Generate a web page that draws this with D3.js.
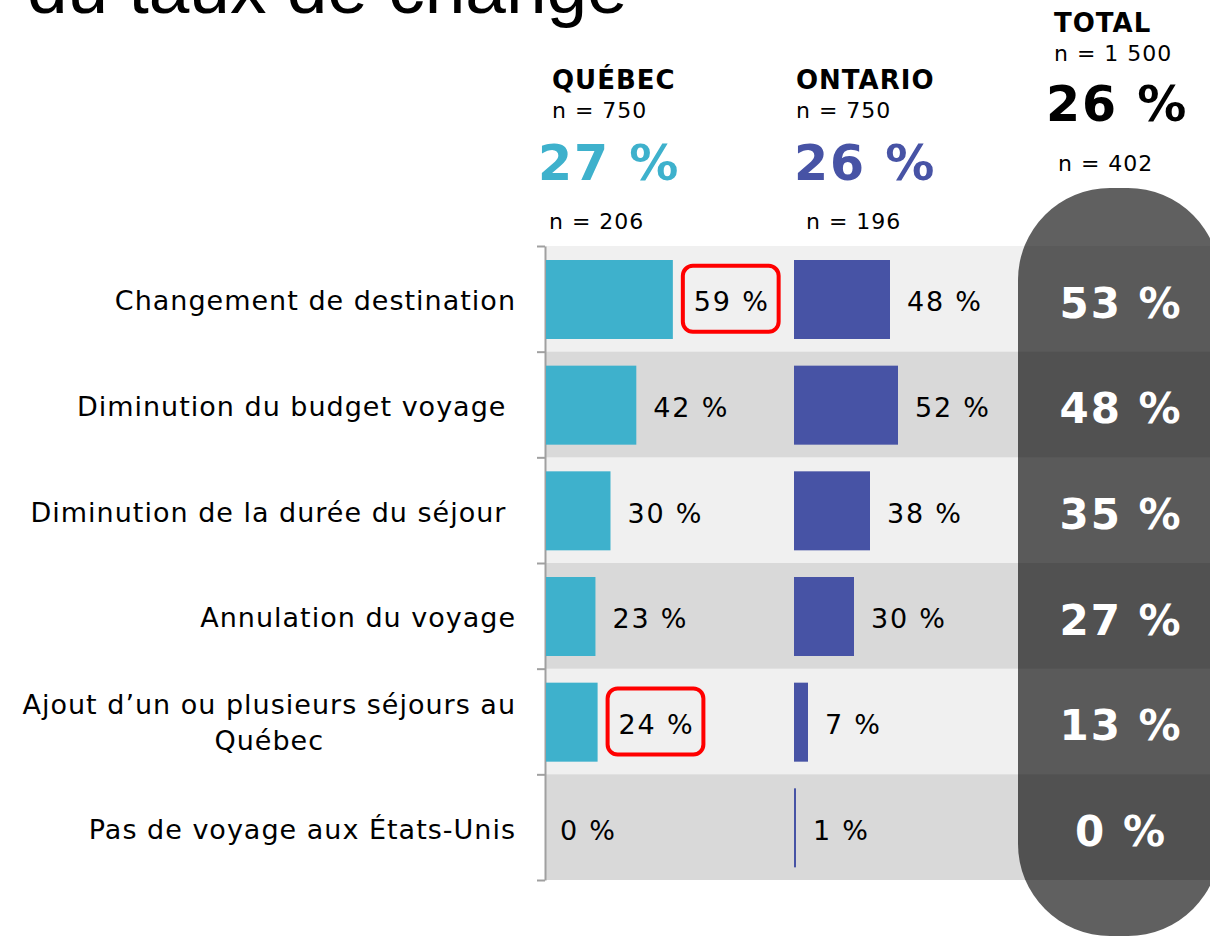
<!DOCTYPE html>
<html>
<head>
<meta charset="utf-8">
<script src="https://cdnjs.cloudflare.com/ajax/libs/d3/7.8.5/d3.min.js"></script>
<style>
  body { margin: 0; background: #fff; }
  svg text { font-family: "DejaVu Sans", Verdana, sans-serif; white-space: pre; }
</style>
</head>
<body>
<div id="chart"></div>
<script>
// data
var categories = [
  "Changement de destination",
  "Diminution du budget voyage ",
  "Diminution de la durée du séjour ",
  "Annulation du voyage",
  "Ajout d’un ou plusieurs séjours au|Québec",
  "Pas de voyage aux États-Unis"
];
var quebec  = [59, 42, 30, 23, 24, 0];
var ontario = [48, 52, 38, 30, 7, 1];
var total   = [53, 48, 35, 27, 13, 0];
var highlightQc = [0, 4];   // rows with a red box around the Québec value

var headers = [
  { name: "QUÉBEC",  n: "n = 750",   pct: "27 %", sub: "n = 206" },
  { name: "ONTARIO", n: "n = 750",   pct: "26 %", sub: "n = 196" },
  { name: "TOTAL",   n: "n = 1 500", pct: "26 %", sub: "n = 402" }
];

var w = 1210, h = 936;
var teal = "#3eb1cc", blue = "#4753a5";

var svg = d3.select("#chart").append("svg")
    .attr("width", w)
    .attr("height", h);

// title (cut off at the top, as in the slide)
svg.append("text")
    .attr("x", 27).attr("y", 13)
    .style("font-family", "'Liberation Sans', Arial, sans-serif")
    .style("font-size", "73px")
    .text("du taux de change");

// scales
var y = d3.scaleBand().domain(d3.range(categories.length)).range([246, 880]);
var yEdge = d3.scaleLinear().domain([0, categories.length]).range([246, 880]);
var xQc = d3.scaleLinear().domain([0, 100]).range([546, 761]);
var xOn = d3.scaleLinear().domain([0, 100]).range([794, 994]);

// total column shape
svg.append("rect")
    .attr("x", 1018).attr("y", 188)
    .attr("width", 202).attr("height", 748)
    .attr("rx", 92).attr("ry", 92)
    .attr("fill", "#606060");

// row bands
svg.selectAll(".band")
    .data(categories)
    .enter().append("rect")
    .attr("class", "band")
    .attr("x", 545).attr("width", w - 545)
    .attr("y", function(d, i){ return y(i); })
    .attr("height", y.bandwidth())
    .attr("fill", "#000")
    .attr("fill-opacity", function(d, i){ return i % 2 ? 0.15 : 0.06; });

// axis
var axis = svg.append("g")
    .attr("transform", "translate(545,0)")
    .call(d3.axisLeft(yEdge).tickValues(d3.range(categories.length + 1))
        .tickFormat("").tickSize(8).tickSizeOuter(0));
axis.selectAll("path, line").attr("stroke", "#a0a0a0").attr("stroke-width", 2);

// category labels
svg.selectAll(".cat")
    .data(categories)
    .enter().append("text")
    .attr("class", "cat")
    .style("font-size", "27px")
    .style("letter-spacing", "1px")
    .each(function(d, i){
        var lines = d.split("|");
        var cy = y(i) + y.bandwidth() / 2;
        var t = d3.select(this);
        if (lines.length === 1) {
            t.attr("x", 516).attr("y", cy + 2).attr("dy", "0.35em")
             .attr("text-anchor", "end").text(lines[0]);
        } else {
            var first = t.append("tspan").attr("x", 516).attr("y", cy - 17)
                .attr("dy", "0.35em").attr("text-anchor", "end").text(lines[0]);
            var len = first.node().getComputedTextLength();
            t.append("tspan").attr("x", 516 - len / 2).attr("y", cy + 19)
                .attr("dy", "0.35em").attr("text-anchor", "middle").text(lines[1]);
        }
    });

// bars
function drawSeries(vals, x, color, cls) {
    svg.selectAll("." + cls)
        .data(vals)
        .enter().append("rect")
        .attr("class", cls)
        .attr("x", x(0))
        .attr("y", function(d, i){ return y(i) + 14; })
        .attr("width", function(d){ return x(d) - x(0); })
        .attr("height", 79)
        .attr("fill", color);

    svg.selectAll("." + cls + "-lbl")
        .data(vals)
        .enter().append("text")
        .attr("class", cls + "-lbl")
        .attr("x", function(d){ return x(d) + (d === 0 ? 14 : 17); })
        .attr("y", function(d, i){ return y(i) + y.bandwidth() / 2 + 3; })
        .attr("dy", "0.35em")
        .style("font-size", "27px")
        .style("letter-spacing", "1.8px")
        .text(function(d){ return d + " %"; });
}
drawSeries(quebec, xQc, teal, "qc");
drawSeries(ontario, xOn, blue, "on");

// nudge the boxed labels a bit to the right, like in the slide
svg.selectAll(".qc-lbl").filter(function(d, j){ return highlightQc.indexOf(j) >= 0; })
    .attr("x", function(d){ return xQc(d) + 21; });

// red highlight boxes
highlightQc.forEach(function(i){
    var lbl = svg.selectAll(".qc-lbl").filter(function(d, j){ return j === i; }).node();
    var bb = lbl.getBBox();
    svg.append("rect")
        .attr("x", bb.x - 11).attr("y", y(i) + y.bandwidth() / 2 - 33)
        .attr("width", bb.width + 20).attr("height", 66)
        .attr("rx", 10)
        .attr("fill", "none")
        .attr("stroke", "#ff0000")
        .attr("stroke-width", 4);
});

// total values
svg.selectAll(".tot")
    .data(total)
    .enter().append("text")
    .attr("class", "tot")
    .attr("x", 1121)
    .attr("y", function(d, i){ return y(i) + y.bandwidth() / 2 + 4; })
    .attr("dy", "0.35em")
    .attr("text-anchor", "middle")
    .attr("fill", "#fff")
    .style("font-size", "42px")
    .style("font-weight", "bold")
    .style("letter-spacing", "2px")
    .text(function(d){ return d + " %"; });

// column headers
var hx = [552, 796, 1054];
var hy = [89, 89, 32];
headers.forEach(function(hd, k){
    var g = svg.append("g");
    var x0 = hx[k], y0 = hy[k];
    g.append("text").attr("x", x0).attr("y", y0)
        .style("font-size", "26px").style("font-weight", "bold")
        .style("letter-spacing", "1px").text(hd.name);
    g.append("text").attr("x", x0).attr("y", y0 + 29)
        .style("font-size", "22px").style("letter-spacing", "1px").text(hd.n);
    g.append("text")
        .attr("x", k === 2 ? 1046 : x0 - (k === 0 ? 14 : 2))
        .attr("y", k === 2 ? 121 : 180)
        .attr("fill", [teal, blue, "#000"][k])
        .style("font-size", "49px").style("font-weight", "bold")
        .style("letter-spacing", "2px").text(hd.pct);
    g.append("text")
        .attr("x", k === 2 ? 1058 : x0 + [-3, 10][k])
        .attr("y", k === 2 ? 171 : 229)
        .style("font-size", "22px").style("letter-spacing", "1px").text(hd.sub);
});
</script>
</body>
</html>
